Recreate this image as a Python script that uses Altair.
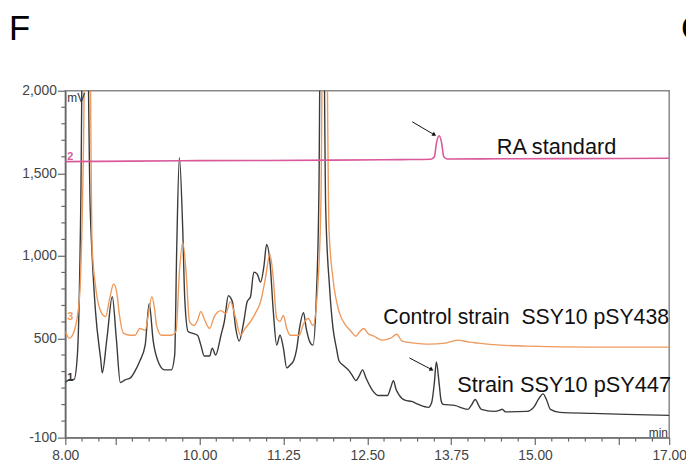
import altair as alt
import pandas as pd

# ---------------- data ----------------
# Strain SSY10 pSY447 (trace 1, dark)
black_t = [8.00, 8.06, 8.13, 8.18, 8.23, 8.27, 8.31, 8.37, 8.40, 8.45, 8.53, 8.55, 8.62, 8.70, 8.76,
           8.82, 8.89, 8.97, 9.04, 9.11, 9.19, 9.25, 9.31, 9.38, 9.48, 9.58, 9.63, 9.66, 9.70, 9.75,
           9.78, 9.83, 9.90, 9.97, 10.02, 10.07, 10.15, 10.19, 10.24, 10.32, 10.37, 10.43, 10.49, 10.54,
           10.59, 10.66, 10.71, 10.76, 10.81, 10.86, 10.91, 10.96, 11.00, 11.05, 11.10, 11.15, 11.20,
           11.25, 11.30, 11.35, 11.40, 11.45, 11.49, 11.55, 11.59, 11.64, 11.69, 11.74, 11.78, 11.81,
           11.84, 11.88, 11.94, 11.99, 12.04, 12.08, 12.15, 12.23, 12.28, 12.33, 12.38, 12.43, 12.48,
           12.58, 12.67, 12.80, 12.85, 12.89, 12.93, 12.97, 13.07, 13.16, 13.26, 13.41, 13.46, 13.50,
           13.53, 13.57, 13.60, 13.63, 13.80, 14.00, 14.05, 14.11, 14.16, 14.20, 14.39, 14.47, 14.51,
           14.56, 14.88, 14.98, 15.05, 15.12, 15.17, 15.23, 15.37, 15.86, 16.36, 17.00]
black_v = [235, 250, 252, 402, 1300, 2900, 2900, 1300, 1000, 663, 364, 292, 500, 753, 500,
           233, 250, 262, 304, 364, 460, 711, 484, 364, 310, 310, 400, 1040, 1595, 1159,
           741, 543, 531, 520, 460, 394, 394, 442, 400, 520, 603, 759, 722, 561,
           484, 603, 723, 753, 902, 890, 842, 938, 1069, 962, 663, 460, 520,
           442, 322, 340, 364, 442, 561, 657, 561, 484, 460, 741, 1400, 2900,
           2900, 1300, 800, 561, 442, 364, 335, 304, 274, 245, 274, 310, 262,
           185, 155, 155, 203, 245, 191, 161, 125, 119, 101, 83, 113, 233,
           358, 233, 125, 101, 95, 71, 95, 131, 95, 71, 59, 65, 72,
           56, 59, 83, 131, 165, 131, 71, 53, 47, 41, 35]

# Control strain SSY10 pSY438 (trace 3, orange)
orange_t = [8.00, 8.06, 8.13, 8.21, 8.27, 8.31, 8.35, 8.40, 8.45, 8.53, 8.60, 8.66, 8.72, 8.77, 8.80,
            8.87, 8.97, 9.04, 9.11, 9.19, 9.24, 9.29, 9.33, 9.36, 9.43, 9.58, 9.65, 9.70, 9.75, 9.80,
            9.85, 9.92, 9.97, 10.02, 10.08, 10.15, 10.22, 10.32, 10.39, 10.46, 10.54, 10.61, 10.68,
            10.76, 10.83, 10.91, 10.98, 11.05, 11.10, 11.15, 11.20, 11.25, 11.30, 11.35, 11.49, 11.54,
            11.62, 11.69, 11.76, 11.81, 11.845, 11.88, 11.93, 11.99, 12.08, 12.18, 12.26, 12.33, 12.39,
            12.45, 12.51, 12.60, 12.72, 12.85, 12.94, 13.02, 13.21, 13.41, 13.66, 13.85, 14.02, 14.15,
            14.49, 14.88, 15.86, 17.00]
orange_v = [543, 502, 543, 741, 1637, 2900, 2900, 1057, 818, 663, 633, 741, 830, 770, 663,
            531, 520, 520, 561, 549, 651, 753, 680, 579, 520, 520, 543, 902, 1081, 902,
            603, 579, 609, 663, 609, 561, 633, 669, 651, 723, 621, 520, 561,
            603, 651, 723, 860, 1010, 860, 621, 603, 639, 561, 520, 520, 579,
            621, 579, 800, 1338, 2900, 2900, 1159, 860, 663, 579, 543, 514, 543,
            561, 531, 514, 490, 502, 526, 484, 472, 466, 472, 490, 478, 472,
            460, 454, 448, 448]

# RA standard (trace 2, pink)
pink_t = [8.00, 9.00, 10.00, 11.00, 12.00, 13.00, 13.45, 13.50, 13.53, 13.57, 13.61, 13.64, 13.69,
          14.50, 15.50, 17.00]
pink_v = [1571, 1574, 1577, 1578, 1580, 1583, 1585, 1600, 1680, 1727, 1680, 1600, 1587,
          1588, 1589, 1591]

# axis ticks
x_major = [8.0, 8.75, 10.0, 11.25, 12.5, 13.75, 15.0, 16.25, 17.0]
x_labelled = [8.0, 10.0, 11.25, 12.5, 13.75, 15.0, 17.0]
x_minor = [8.25, 8.5, 9.0, 9.25, 9.5, 9.75, 10.25, 10.5, 10.75, 11.0, 11.5, 11.75, 12.0, 12.25,
           12.75, 13.0, 13.25, 13.5, 14.0, 14.25, 14.5, 14.75, 15.25, 15.5, 15.75, 16.0, 16.5, 16.75]
y_major = [-100, 500, 1000, 1500, 2000]
y_minor = [0, 100, 200, 300, 400, 600, 700, 800, 900, 1100, 1200, 1300, 1400, 1600, 1700, 1800, 1900]

# annotations (data coordinates)
NBSP = "\u00a0"
label_text = ["RA standard", "Strain SSY10 pSY447"]
label_t = [14.43, 13.84]
label_v = [1661, 221]
control_text = ["Control strain" + NBSP + NBSP + "SSY10 pSY438"]
control_t = [12.74]
control_v = [621]

trace_no = ["1", "2", "3"]
trace_no_t = [8.03, 8.03, 8.03]
trace_no_v = [262, 1601, 633]
trace_no_color = ["#333333", "#d9599b", "#ee9a5c"]

arrow_t0 = [13.17, 13.13]
arrow_v0 = [1812, 382]
arrow_t1 = [13.50, 13.46]
arrow_v1 = [1733, 312]
arrow_angle = [121, 118]

W, H = 611, 351
FONT = "Liberation Sans"

xscale = alt.Scale(domain=[8, 17], nice=False, zero=False)
yscale = alt.Scale(domain=[-100, 2000], nice=False, zero=False)

lbl_list = "[" + ",".join(str(v) for v in x_labelled) + "]"
xaxis = alt.Axis(values=x_major, tickSize=7, labelPadding=4, labelFlush=False,
                 labelExpr=f"indexof({lbl_list}, datum.value) >= 0 ? format(datum.value, '.2f') : ''",
                 grid=False, title=None, labelFontSize=14, labelFont=FONT, labelColor="#444",
                 domainColor="#666", domainWidth=1.5, tickColor="#666", tickWidth=1.2)
yaxis = alt.Axis(values=y_major, tickSize=8, labelPadding=1, labelFlush=False,
                 labelExpr="datum.value < 0 ? '-' + format(-datum.value, ',') : format(datum.value, ',')",
                 grid=False, title=None, labelFontSize=14, labelFont=FONT, labelColor="#444",
                 domainColor="#666", domainWidth=1.5, tickColor="#666", tickWidth=1.2)

df_black = pd.DataFrame({"t": black_t, "v": black_v})
df_orange = pd.DataFrame({"t": orange_t, "v": orange_v})
df_pink = pd.DataFrame({"t": pink_t, "v": pink_v})

X = lambda: alt.X("t:Q", scale=xscale, title=None)
Y = lambda: alt.Y("v:Q", scale=yscale, title=None)

black = alt.Chart(df_black).mark_line(color="#3a3a3a", strokeWidth=1.4, clip=True, interpolate="monotone").encode(
    x=alt.X("t:Q", scale=xscale, axis=xaxis), y=alt.Y("v:Q", scale=yscale, axis=yaxis))
orange = alt.Chart(df_orange).mark_line(color="#ee9a5c", strokeWidth=1.4, clip=True, interpolate="monotone").encode(x=X(), y=Y())
pink = alt.Chart(df_pink).mark_line(color="#d9599b", strokeWidth=1.6, clip=True, interpolate="monotone").encode(x=X(), y=Y())

xminor = alt.Chart(pd.DataFrame({"t": x_minor})).mark_rule(color="#666", strokeWidth=1.2).encode(
    x=X(), y=alt.value(H), y2=alt.value(H + 4))
yminor = alt.Chart(pd.DataFrame({"v": y_minor})).mark_rule(color="#666", strokeWidth=1.2).encode(
    y=Y(), x=alt.value(-4), x2=alt.value(0))

labels = alt.Chart(pd.DataFrame({"t": label_t, "v": label_v, "txt": label_text})).mark_text(
    font=FONT, fontSize=22, align="left", baseline="middle", color="#111").encode(
    x=X(), y=Y(), text="txt:N")
control_label = alt.Chart(pd.DataFrame({"t": control_t, "v": control_v, "txt": control_text})).mark_text(
    font=FONT, fontSize=21.5, align="left", baseline="middle", color="#111").encode(
    x=X(), y=Y(), text="txt:N")

nums = alt.Chart(pd.DataFrame({"t": trace_no_t, "v": trace_no_v, "txt": trace_no, "c": trace_no_color})).mark_text(
    font=FONT, fontSize=11, fontWeight="bold", align="left", baseline="middle").encode(
    x=X(), y=Y(), text="txt:N", color=alt.Color("c:N", scale=None))

unit_mv = alt.Chart(pd.DataFrame({"t": [8.03], "v": [1954], "txt": ["mV"]})).mark_text(
    font=FONT, fontSize=12, align="left", baseline="middle", color="#333").encode(
    x=X(), y=Y(), text="txt:N")
unit_min = alt.Chart(pd.DataFrame({"t": [16.98], "v": [-75], "txt": ["min"]})).mark_text(
    font=FONT, fontSize=12, align="right", baseline="middle", color="#333").encode(
    x=X(), y=Y(), text="txt:N")

df_arrow = pd.DataFrame({"t0": arrow_t0, "v0": arrow_v0, "t1": arrow_t1, "v1": arrow_v1, "ang": arrow_angle})
arrow_line = alt.Chart(df_arrow).mark_rule(color="#111", strokeWidth=1).encode(
    x=alt.X("t0:Q", scale=xscale, title=None), y=alt.Y("v0:Q", scale=yscale, title=None),
    x2="t1:Q", y2="v1:Q")
arrow_head = alt.Chart(df_arrow).mark_point(shape="triangle-up", filled=True, color="#111", size=22, opacity=1).encode(
    x=alt.X("t1:Q", scale=xscale, title=None), y=alt.Y("v1:Q", scale=yscale, title=None),
    angle=alt.Angle("ang:Q", scale=None))

panel = alt.Chart(pd.DataFrame({"txt": ["F", "G"], "px": [-57, 623]})).mark_text(
    font=FONT, fontSize=35, align="left", baseline="middle", color="#000").encode(
    x=alt.X("px:Q", scale=None), y=alt.value(-62), text="txt:N")

chart = alt.layer(black, orange, pink, xminor, yminor, labels, control_label, nums, unit_mv, unit_min,
                  arrow_line, arrow_head, panel).properties(
    width=W, height=H,
    autosize=alt.AutoSizeParams(type="none"),
    padding={"left": 58, "top": 81, "right": 17, "bottom": 25},
).configure_view(stroke="#888", strokeWidth=1.5).configure_axis(labelFont=FONT)

chart.save("out.html", embed_options={"renderer": "svg", "actions": False})
